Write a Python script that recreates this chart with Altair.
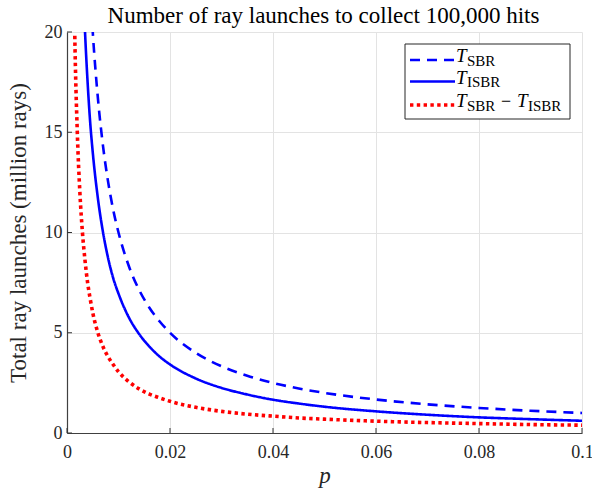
import altair as alt
import pandas as pd

# ---- data (millions of ray launches) ----
p_vals = [0.001, 0.0015, 0.002, 0.0025, 0.003, 0.0035, 0.004, 0.0045, 0.005,
          0.006, 0.007, 0.008, 0.009, 0.010, 0.012, 0.014, 0.016, 0.018,
          0.020, 0.025, 0.030, 0.035, 0.040, 0.045, 0.050, 0.060, 0.070,
          0.080, 0.090, 0.100]
t_sbr = [100, 66.7, 50, 40, 33.3, 28.6, 25, 22.2, 20.0,
         16.7, 14.3, 12.5, 11.1, 10.0, 8.33, 7.14, 6.25, 5.56,
         5.0, 4.0, 3.33, 2.86, 2.5, 2.22, 2.0, 1.67, 1.43,
         1.25, 1.11, 1.0]
t_isbr = [70.0, 46.7, 35.0, 28.0, 23.3, 20.0, 17.5, 15.5, 14.0,
          11.7, 10.0, 8.7, 7.7, 6.95, 5.77, 4.94, 4.31, 3.81,
          3.42, 2.72, 2.25, 1.92, 1.66, 1.47, 1.31, 1.08, 0.91,
          0.78, 0.69, 0.61]
t_diff = [30.0, 20.0, 15.0, 12.0, 10.0, 8.6, 7.5, 6.7, 6.0,
          5.0, 4.3, 3.8, 3.4, 3.05, 2.56, 2.2, 1.94, 1.75,
          1.58, 1.28, 1.08, 0.94, 0.84, 0.75, 0.69, 0.59, 0.52,
          0.47, 0.42, 0.39]

x_ticks = [0, 0.02, 0.04, 0.06, 0.08, 0.1]
y_ticks = [0, 5, 10, 15, 20]
title_text = "Number of ray launches to collect 100,000 hits"

W, H = 515, 401
SERIF = "Liberation Serif"
AX = "#262626"

df = pd.DataFrame({"p": p_vals, "sbr": t_sbr, "isbr": t_isbr, "diff": t_diff})

xs = alt.Scale(domain=[0, 0.1], nice=False)
ys = alt.Scale(domain=[0, 20], nice=False)

xenc = alt.X("p:Q", scale=xs,
             axis=alt.Axis(values=x_ticks, format="~g", title="p",
                           labelFont=SERIF, titleFont=SERIF,
                           titleFontStyle="italic", titleFontWeight="normal",
                           titleFontSize=23, labelFontSize=18, labelPadding=10,
                           titlePadding=3, ticks=False, grid=True,
                           labelFlush=False, labelColor=AX, titleColor=AX))

base = alt.Chart(df)

def line(field, color, dash, width):
    return base.mark_line(clip=True, interpolate="monotone", color=color,
                          strokeWidth=width, strokeDash=dash, strokeCap="butt").encode(
        x=xenc,
        y=alt.Y(f"{field}:Q", scale=ys,
                axis=alt.Axis(values=y_ticks, title="Total ray launches (million rays)",
                              labelFont=SERIF, titleFont=SERIF,
                              titleFontWeight="normal", titleFontSize=23,
                              labelFontSize=18, labelPadding=5, titlePadding=14,
                              ticks=False, grid=True, labelColor=AX, titleColor=AX)))

l_sbr = line("sbr", "#0000ff", [10, 7], 2.6)
l_isbr = line("isbr", "#0000ff", [1, 0], 2.6)
l_diff = line("diff", "#ff0000", [3.4, 3.4], 3.6)

# inward tick marks (MATLAB style), positioned through the scales
xt = alt.Chart(pd.DataFrame({"t": x_ticks})).mark_rule(color="#333", strokeWidth=1).encode(
    x=alt.X("t:Q", scale=xs), y=alt.value(H), y2=alt.value(H - 5))
yt = alt.Chart(pd.DataFrame({"t": y_ticks})).mark_rule(color="#333", strokeWidth=1).encode(
    y=alt.Y("t:Q", scale=ys), x=alt.value(0), x2=alt.value(5))

one = pd.DataFrame({"a": [0]})

def txt(s, xv, yv, size, italic=False, align="left"):
    return alt.Chart(one).mark_text(text=s, font=SERIF, fontSize=size, align=align,
                                    baseline="alphabetic", color="#000",
                                    fontStyle="italic" if italic else "normal").encode(
        x=alt.value(xv), y=alt.value(yv))

title_mark = txt(title_text, W / 2 - 1, -9, 23, align="center")

# legend (drawn in pixel space of the plot area)
box = alt.Chart(one).mark_rect(fill="white", stroke="#262626", strokeWidth=1).encode(
    x=alt.value(338), x2=alt.value(503), y=alt.value(12), y2=alt.value(87))

rows = [28, 49.5, 73]
def lg_line(yv, color, dash, width):
    return alt.Chart(one).mark_rule(color=color, strokeWidth=width, strokeDash=dash,
                                    strokeCap="butt").encode(
        x=alt.value(343), x2=alt.value(388), y=alt.value(yv))

legend_layers = [
    box,
    lg_line(rows[0], "#0000ff", [10, 7], 2.6),
    lg_line(rows[1], "#0000ff", [1, 0], 2.6),
    lg_line(rows[2], "#ff0000", [3.4, 3.4], 3.6),
]
for r, sub in zip(rows[:2], ["SBR", "ISBR"]):
    legend_layers.append(txt("T", 389, r + 2, 19, True))
    legend_layers.append(txt(sub, 400, r + 5.5, 15))
r = rows[2]
legend_layers += [
    txt("T", 389, r + 2, 19, True),
    txt("SBR", 400, r + 5.5, 15),
    txt("\u2212", 434, r + 2, 18),
    txt("T", 450, r + 2, 19, True),
    txt("ISBR", 461, r + 5.5, 15),
]

chart = alt.layer(l_sbr, l_isbr, l_diff, xt, yt, title_mark, *legend_layers).properties(
    width=W, height=H,
    autosize=alt.AutoSizeParams(type="none"),
    padding={"left": 67, "top": 32, "right": 10, "bottom": 65},
).configure_axis(
    domainColor="#404040", domainWidth=1.2, gridColor="#e3e3e3", gridWidth=1,
).configure_view(stroke=None)

chart.save("out.html", embed_options={"renderer": "svg", "actions": False})
